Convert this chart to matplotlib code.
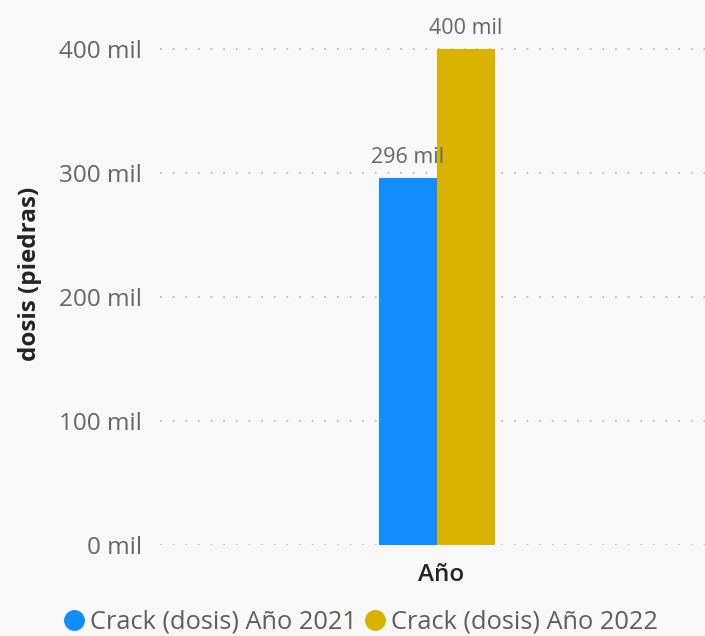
import matplotlib.pyplot as plt
import numpy as np

plt.rcParams['font.family'] = ['Open Sans', 'DejaVu Sans']

series = ['Crack (dosis) Año 2021', 'Crack (dosis) Año 2022']
values = [296, 400]  # miles de dosis
colors = ['#118DFF', '#D9B300']
yticks = [0, 100, 200, 300, 400]

fig = plt.figure(figsize=(7.05, 6.36), dpi=100, facecolor='#F8F8F8')
ax = fig.add_axes([0.227, 0.1431, 0.773, 0.794])
ax.set_facecolor('#F8F8F8')

w = 0.2
xs = [-w / 2, w / 2]
for x, v, c, s in zip(xs, values, colors, series):
    ax.bar(x, v, width=w, color=c, label=s, zorder=3)
for x, v in zip(xs, values):
    ax.text(x, v + 8, f'{v} mil', ha='center', va='bottom', fontsize=15.5,
            color='#666666', zorder=5)

ax.set_xlim(-0.955, 0.924)
ax.set_ylim(0, 407)
ax.set_yticks(yticks)
ax.set_yticklabels([f'{t} mil' for t in yticks], fontsize=17.5, color='#666666')
ax.tick_params(axis='y', length=0, pad=13)
ax.set_xticks([])
ax.grid(axis='y', color='#C0C0C0', linestyle=(0, (1, 6)), linewidth=1.3, zorder=0)
for sp in ax.spines.values():
    sp.set_visible(False)

ax.set_xlabel('Año', fontsize=17.5, fontweight='semibold', color='#252423')
ax.xaxis.set_label_coords(0.516, -0.035, transform=ax.transAxes)
ax.xaxis.label.set_va('top')
fig.text(0.043, 0.569, 'dosis (piedras)', rotation=90, ha='center', va='center',
         fontsize=17.5, fontweight='bold', color='#252423')

handles = [plt.Line2D([], [], marker='o', linestyle='', markersize=14, color=c) for c in colors]
fig.legend(handles, series, loc='center', bbox_to_anchor=(0.512, 0.022), ncol=2, frameon=False,
           fontsize=18.3, labelcolor='#605E5C', handletextpad=0.25, columnspacing=0.3,
           handlelength=0.8)

fig.savefig('out.png', dpi=100, facecolor=fig.get_facecolor())
